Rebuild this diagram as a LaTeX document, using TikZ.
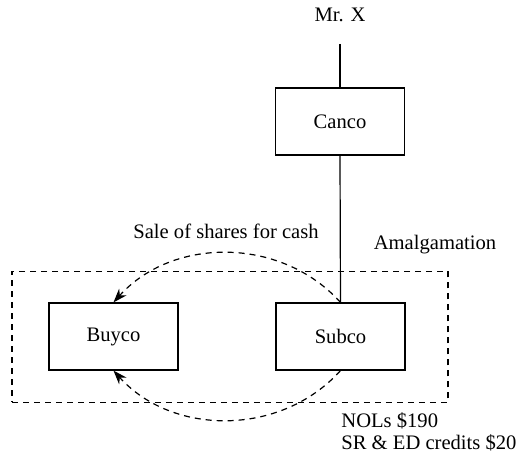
\documentclass[tikz,border=0pt]{standalone}
\usepackage{fontspec}
\setmainfont{Liberation Serif}
\usetikzlibrary{arrows.meta}
\begin{document}
\begin{tikzpicture}[x=0.5pt,y=-0.5pt,
  box/.style={draw,line width=0.6pt,minimum width=64.5pt,minimum height=33.5pt,inner sep=0pt,font=\fontsize{10.3}{12}\selectfont},
  lbl/.style={inner sep=0pt,font=\fontsize{10.3}{12}\selectfont},
  dsh/.style={line width=0.6pt,dash pattern=on 3pt off 2.5pt},
  flow/.style={dsh,-{Stealth[length=7pt,width=5pt]}}]
\useasboundingbox (0,0) rectangle (521,459);
\node[draw,dsh,minimum width=218pt,minimum height=65.5pt,inner sep=0pt] (amal) at (230,337) {};
\node[lbl] (mrx) at (340,15) {Mr. X};
\coordinate (mrxline) at (340,44);
\node[box] (canco) at (340,121.5) {Canco};
\node[box] (buyco) at (113.5,336.5) {Buyco};
\node[box] (subco) at (340.5,336.5) {Subco};
\node[lbl] (amaltext) at (435,245) {Amalgamation};
\node[lbl] (sale) at (226,231) {Sale of shares for cash};
\node[lbl,anchor=west] (nols) at (341,421) {NOLs \$190};
\node[lbl,anchor=west] (sred) at (341,443) {SR \& ED credits \$20};
\draw[line width=0.6pt] (mrxline) -- (canco.north);
\draw[line width=0.6pt] (canco.south) -- (subco.north);
\draw[flow] (subco.north) to[bend right=48] (buyco.north);
\draw[flow] (subco.south) to[bend left=48] (buyco.south);
\end{tikzpicture}
\end{document}
